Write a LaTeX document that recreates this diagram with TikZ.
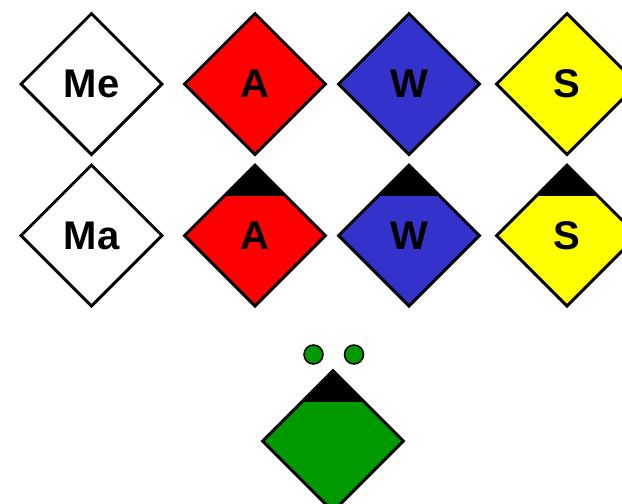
\documentclass[tikz,border=0pt]{standalone}
\usepackage{fontspec}
\setmainfont{Liberation Sans}
\usetikzlibrary{shapes.geometric}
\definecolor{flagred}{HTML}{FF0000}
\definecolor{flagblue}{HTML}{3333CC}
\definecolor{flagyellow}{HTML}{FFFF00}
\definecolor{flaggreen}{HTML}{009900}

\begin{document}
\begin{tikzpicture}[x=1pt,y=-1pt,
    flag/.style={diamond, draw, line width=3pt, minimum size=142pt, inner sep=0pt,
        font=\fontsize{40}{40}\selectfont\bfseries},
    capped/.style={path picture={\fill[black] (path picture bounding box.north west)
        rectangle ([yshift=-31pt]path picture bounding box.north east);}},
    dot/.style={circle, draw, line width=1.5pt, fill=flaggreen, minimum size=19pt, inner sep=0pt}]
    \useasboundingbox (0,0) rectangle (622,504);

    % Draw the first row of flags
    \node[flag, fill=white] (me) at (91.5,84) {Me};
    \foreach \x/\lbl/\col in {255/A/flagred, 409/W/flagblue, 567/S/flagyellow} {
        \node[flag, fill=\col] (top\lbl) at (\x,84) {\lbl};
    }

    % Draw the second row, with the black caps
    \node[flag, fill=white] (ma) at (91.5,235.5) {Ma};
    \foreach \x/\lbl/\col in {255/A/flagred, 409/W/flagblue, 567/S/flagyellow} {
        \node[flag, capped, fill=\col] (low\lbl) at (\x,235.5) {\lbl};
    }

    % Draw the green flag and its two dots
    \node[flag, capped, fill=flaggreen] (green) at (333,441) {};
    \node[dot] (dotl) at (313.5,354.5) {};
    \node[dot] (dotr) at (354,354.5) {};

\end{tikzpicture}
\end{document}
